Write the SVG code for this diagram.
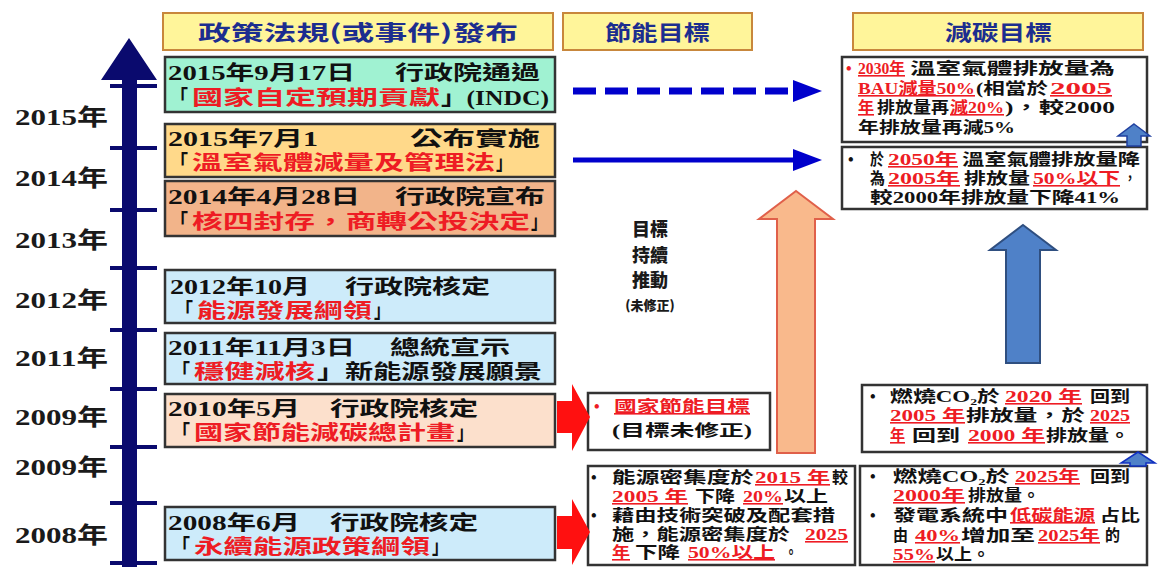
<svg xmlns="http://www.w3.org/2000/svg" width="1160" height="567" viewBox="0 0 1160 567">
<style>
text{font-family:"Liberation Serif","Noto Sans CJK TC",serif;font-weight:bold}
.hd{font-family:"Noto Sans CJK TC",sans-serif;font-size:21px;fill:#1C2D8F}
.yr{font-size:23px;fill:#1a1a1a}
.L{font-size:20px;fill:#111}
.Lr{font-size:20px;fill:#EE1C24}
.s{font-size:16px;fill:#111}
.sr{font-size:16px;fill:#EE1C24}
.u{text-decoration:underline}
.hbox{fill:#FFF59A;stroke:#C8873C;stroke-width:2}
.box{stroke:#333;stroke-width:2.5}
.wbox{fill:#fff;stroke:#333;stroke-width:2.5}
.mid{font-family:"Noto Sans CJK TC",sans-serif;font-size:18px;font-weight:900;fill:#1a1a1a}
</style>
<rect width="1160" height="567" fill="#fff"/>

<g id="headers">
<rect class="hbox" x="163" y="13" width="390" height="37"/>
<text class="hd" x="198" y="40" textLength="320" lengthAdjust="spacingAndGlyphs">政策法規(或事件)發布</text>
<rect class="hbox" x="563" y="13" width="189" height="37"/>
<text class="hd" x="605" y="40" textLength="105" lengthAdjust="spacingAndGlyphs">節能目標</text>
<rect class="hbox" x="853" y="13" width="290" height="37"/>
<text class="hd" x="945" y="40" textLength="107" lengthAdjust="spacingAndGlyphs">減碳目標</text>
</g>

<g id="timeline" fill="#0A0A6E" stroke="none">
<polygon points="129,38 157,80 137,80 137,567 122,567 122,80 101,80"/>
<g stroke="#0A0A6E" stroke-width="4">
<line x1="110" y1="86" x2="157" y2="86"/>
<line x1="110" y1="148" x2="157" y2="148"/>
<line x1="110" y1="210" x2="157" y2="210"/>
<line x1="110" y1="268" x2="157" y2="268"/>
<line x1="110" y1="330" x2="157" y2="330"/>
<line x1="110" y1="389" x2="157" y2="389"/>
<line x1="110" y1="447" x2="157" y2="447"/>
<line x1="110" y1="503" x2="157" y2="503"/>
<line x1="110" y1="563" x2="157" y2="563"/>
</g>
<text class="yr" x="15" y="125" textLength="93" lengthAdjust="spacingAndGlyphs">2015年</text>
<text class="yr" x="15" y="186" textLength="93" lengthAdjust="spacingAndGlyphs">2014年</text>
<text class="yr" x="15" y="248" textLength="93" lengthAdjust="spacingAndGlyphs">2013年</text>
<text class="yr" x="15" y="308" textLength="93" lengthAdjust="spacingAndGlyphs">2012年</text>
<text class="yr" x="15" y="366" textLength="93" lengthAdjust="spacingAndGlyphs">2011年</text>
<text class="yr" x="15" y="425" textLength="93" lengthAdjust="spacingAndGlyphs">2009年</text>
<text class="yr" x="15" y="475" textLength="93" lengthAdjust="spacingAndGlyphs">2009年</text>
<text class="yr" x="15" y="543" textLength="93" lengthAdjust="spacingAndGlyphs">2008年</text>
</g>

<g id="ev2015-09">
<rect class="box" x="165" y="57" width="390" height="55" fill="#A0F2D2"/>
<text class="L" x="168" y="80" textLength="187" lengthAdjust="spacingAndGlyphs">2015年9月17日</text>
<text class="L" x="395" y="80" textLength="145" lengthAdjust="spacingAndGlyphs">行政院通過</text>
<text class="L" x="170" y="105" textLength="18" lengthAdjust="spacingAndGlyphs">「</text>
<text class="Lr" x="192" y="105" textLength="248" lengthAdjust="spacingAndGlyphs">國家自定預期貢獻</text>
<text class="L" x="441" y="105" textLength="108" lengthAdjust="spacingAndGlyphs">」(INDC)</text>
</g>

<g id="ev2015-07">
<rect class="box" x="165" y="124" width="390" height="53" fill="#FFD98A"/>
<text class="L" x="168" y="146" textLength="150" lengthAdjust="spacingAndGlyphs">2015年7月1</text>
<text class="L" x="410" y="146" textLength="130" lengthAdjust="spacingAndGlyphs">公布實施</text>
<text class="L" x="170" y="170" textLength="18" lengthAdjust="spacingAndGlyphs">「</text>
<text class="Lr" x="192" y="170" textLength="303" lengthAdjust="spacingAndGlyphs">溫室氣體減量及管理法</text>
<text class="L" x="496" y="170" textLength="16" lengthAdjust="spacingAndGlyphs">」</text>
</g>

<g id="ev2014-04">
<rect class="box" x="165" y="181" width="390" height="55" fill="#F2B48A"/>
<text class="L" x="168" y="204" textLength="192" lengthAdjust="spacingAndGlyphs">2014年4月28日</text>
<text class="L" x="395" y="204" textLength="150" lengthAdjust="spacingAndGlyphs">行政院宣布</text>
<text class="L" x="170" y="229" textLength="18" lengthAdjust="spacingAndGlyphs">「</text>
<text class="Lr" x="192" y="229" textLength="338" lengthAdjust="spacingAndGlyphs">核四封存，商轉公投決定</text>
<text class="L" x="531" y="229" textLength="16" lengthAdjust="spacingAndGlyphs">」</text>
</g>

<g id="ev2012-10">
<rect class="box" x="165" y="270" width="390" height="53" fill="#CDEBFA"/>
<text class="L" x="170" y="294" textLength="140" lengthAdjust="spacingAndGlyphs">2012年10月</text>
<text class="L" x="345" y="294" textLength="145" lengthAdjust="spacingAndGlyphs">行政院核定</text>
<text class="L" x="175" y="318" textLength="18" lengthAdjust="spacingAndGlyphs">「</text>
<text class="Lr" x="197" y="318" textLength="175" lengthAdjust="spacingAndGlyphs">能源發展綱領</text>
<text class="L" x="374" y="318" textLength="16" lengthAdjust="spacingAndGlyphs">」</text>
</g>

<g id="ev2011-11">
<rect class="box" x="165" y="333" width="390" height="51" fill="#CDEBFA"/>
<text class="L" x="168" y="355" textLength="187" lengthAdjust="spacingAndGlyphs">2011年11月3日</text>
<text class="L" x="390" y="355" textLength="120" lengthAdjust="spacingAndGlyphs">總統宣示</text>
<text class="L" x="172" y="379" textLength="18" lengthAdjust="spacingAndGlyphs">「</text>
<text class="Lr" x="194" y="379" textLength="121" lengthAdjust="spacingAndGlyphs">穩健減核</text>
<text class="L" x="317" y="379" textLength="225" lengthAdjust="spacingAndGlyphs">」新能源發展願景</text>
</g>

<g id="ev2010-05">
<rect class="box" x="165" y="394" width="390" height="53" fill="#FCE0CC"/>
<text class="L" x="168" y="416" textLength="132" lengthAdjust="spacingAndGlyphs">2010年5月</text>
<text class="L" x="330" y="416" textLength="148" lengthAdjust="spacingAndGlyphs">行政院核定</text>
<text class="L" x="172" y="440" textLength="18" lengthAdjust="spacingAndGlyphs">「</text>
<text class="Lr" x="194" y="440" textLength="261" lengthAdjust="spacingAndGlyphs">國家節能減碳總計畫</text>
<text class="L" x="457" y="440" textLength="16" lengthAdjust="spacingAndGlyphs">」</text>
</g>

<g id="ev2008-06">
<rect class="box" x="165" y="507" width="390" height="53" fill="#CDEBFA"/>
<text class="L" x="168" y="530" textLength="132" lengthAdjust="spacingAndGlyphs">2008年6月</text>
<text class="L" x="330" y="530" textLength="148" lengthAdjust="spacingAndGlyphs">行政院核定</text>
<text class="L" x="172" y="554" textLength="18" lengthAdjust="spacingAndGlyphs">「</text>
<text class="Lr" x="194" y="554" textLength="236" lengthAdjust="spacingAndGlyphs">永續能源政策綱領</text>
<text class="L" x="432" y="554" textLength="16" lengthAdjust="spacingAndGlyphs">」</text>
</g>

<g id="mid-note">
<text class="mid" x="650" y="236" text-anchor="middle">目標</text>
<text class="mid" x="650" y="262" text-anchor="middle">持續</text>
<text class="mid" x="650" y="287" text-anchor="middle">推動</text>
<text class="mid" x="650" y="310" text-anchor="middle" style="font-size:13px">(未修正)</text>
</g>

<g id="target-2030">
<rect class="wbox" x="842" y="57" width="305" height="85"/>
<text class="sr" x="846" y="74">•</text>
<text class="sr u" x="858" y="74" textLength="47" lengthAdjust="spacingAndGlyphs">2030年</text>
<text class="s" x="910" y="74" textLength="205" lengthAdjust="spacingAndGlyphs">溫室氣體排放量為</text>
<text class="sr u" x="858" y="94" textLength="117" lengthAdjust="spacingAndGlyphs">BAU減量50%</text>
<text class="s" x="976" y="94" textLength="72" lengthAdjust="spacingAndGlyphs">(相當於</text>
<text class="sr u" x="1050" y="94" textLength="62" lengthAdjust="spacingAndGlyphs">2005</text>
<text class="sr u" x="858" y="113" textLength="16" lengthAdjust="spacingAndGlyphs">年</text>
<text class="s" x="877" y="113" textLength="72" lengthAdjust="spacingAndGlyphs">排放量再</text>
<text class="sr u" x="950" y="113" textLength="54" lengthAdjust="spacingAndGlyphs">減20%</text>
<text class="s" x="1005" y="113" textLength="110" lengthAdjust="spacingAndGlyphs">)，較2000</text>
<text class="s" x="858" y="133" textLength="157" lengthAdjust="spacingAndGlyphs">年排放量再減5%</text>
</g>

<g id="target-2050">
<rect class="wbox" x="842" y="147" width="305" height="62"/>
<text class="s" x="848" y="165">•</text>
<text class="s" x="870" y="165" textLength="14" lengthAdjust="spacingAndGlyphs">於</text>
<text class="sr u" x="888" y="165" textLength="70" lengthAdjust="spacingAndGlyphs">2050年</text>
<text class="s" x="962" y="165" textLength="178" lengthAdjust="spacingAndGlyphs">溫室氣體排放量降</text>
<text class="s" x="870" y="184" textLength="15" lengthAdjust="spacingAndGlyphs">為</text>
<text class="sr u" x="888" y="184" textLength="72" lengthAdjust="spacingAndGlyphs">2005年</text>
<text class="s" x="964" y="184" textLength="66" lengthAdjust="spacingAndGlyphs">排放量</text>
<text class="sr u" x="1033" y="184" textLength="87" lengthAdjust="spacingAndGlyphs">50%以下</text>
<text class="s" x="1124" y="184" textLength="12" lengthAdjust="spacingAndGlyphs">，</text>
<text class="s" x="870" y="203" textLength="250" lengthAdjust="spacingAndGlyphs">較2000年排放量下降41%</text>
</g>

<g id="energy-target">
<rect class="wbox" x="588" y="393" width="182" height="57"/>
<text class="sr" x="594" y="412">•</text>
<text class="sr u" x="614" y="412" textLength="136" lengthAdjust="spacingAndGlyphs">國家節能目標</text>
<text class="s" x="612" y="436" textLength="140" lengthAdjust="spacingAndGlyphs">(目標未修正)</text>
</g>

<g id="energy-intensity">
<rect class="wbox" x="588" y="466" width="267" height="99"/>
<text class="s" x="591" y="483">•</text>
<text class="s" x="612" y="483" textLength="142" lengthAdjust="spacingAndGlyphs">能源密集度於</text>
<text class="sr u" x="755" y="483" textLength="75" lengthAdjust="spacingAndGlyphs">2015 年</text>
<text class="s" x="832" y="483" textLength="16" lengthAdjust="spacingAndGlyphs">較</text>
<text class="sr u" x="612" y="502" textLength="76" lengthAdjust="spacingAndGlyphs">2005 年</text>
<text class="s" x="695" y="502" textLength="40" lengthAdjust="spacingAndGlyphs">下降</text>
<text class="sr u" x="743" y="502" textLength="40" lengthAdjust="spacingAndGlyphs">20%</text>
<text class="s" x="784" y="502" textLength="44" lengthAdjust="spacingAndGlyphs">以上</text>
<text class="s" x="591" y="521">•</text>
<text class="s" x="612" y="521" textLength="223" lengthAdjust="spacingAndGlyphs">藉由技術突破及配套措</text>
<text class="s" x="612" y="540" textLength="178" lengthAdjust="spacingAndGlyphs">施，能源密集度於</text>
<text class="sr u" x="805" y="540" textLength="43" lengthAdjust="spacingAndGlyphs">2025</text>
<text class="sr u" x="612" y="558" textLength="18" lengthAdjust="spacingAndGlyphs">年</text>
<text class="s" x="635" y="558" textLength="45" lengthAdjust="spacingAndGlyphs">下降</text>
<text class="sr u" x="688" y="558" textLength="87" lengthAdjust="spacingAndGlyphs">50%以上</text>
<text class="s" x="785" y="558" textLength="12" lengthAdjust="spacingAndGlyphs">。</text>
</g>

<g id="co2-2020">
<rect class="wbox" x="862" y="385" width="285" height="67"/>
<text class="s" x="870" y="402">•</text>
<text class="s" x="890" y="402" textLength="110" lengthAdjust="spacingAndGlyphs">燃燒CO₂於</text>
<text class="sr u" x="1005" y="402" textLength="77" lengthAdjust="spacingAndGlyphs">2020 年</text>
<text class="s" x="1090" y="402" textLength="40" lengthAdjust="spacingAndGlyphs">回到</text>
<text class="sr u" x="890" y="421" textLength="75" lengthAdjust="spacingAndGlyphs">2005 年</text>
<text class="s" x="966" y="421" textLength="119" lengthAdjust="spacingAndGlyphs">排放量，於</text>
<text class="sr u" x="1090" y="421" textLength="40" lengthAdjust="spacingAndGlyphs">2025</text>
<text class="sr u" x="890" y="441" textLength="15" lengthAdjust="spacingAndGlyphs">年</text>
<text class="s" x="912" y="441" textLength="48" lengthAdjust="spacingAndGlyphs">回到</text>
<text class="sr u" x="968" y="441" textLength="77" lengthAdjust="spacingAndGlyphs">2000 年</text>
<text class="s" x="1046" y="441" textLength="84" lengthAdjust="spacingAndGlyphs">排放量。</text>
</g>

<g id="co2-2025">
<rect class="wbox" x="860" y="466" width="287" height="99"/>
<text class="s" x="870" y="482">•</text>
<text class="s" x="893" y="482" textLength="117" lengthAdjust="spacingAndGlyphs">燃燒CO₂於</text>
<text class="sr u" x="1015" y="482" textLength="65" lengthAdjust="spacingAndGlyphs">2025年</text>
<text class="s" x="1090" y="482" textLength="40" lengthAdjust="spacingAndGlyphs">回到</text>
<text class="sr u" x="893" y="501" textLength="72" lengthAdjust="spacingAndGlyphs">2000年</text>
<text class="s" x="968" y="501" textLength="72" lengthAdjust="spacingAndGlyphs">排放量。</text>
<text class="s" x="870" y="521">•</text>
<text class="s" x="893" y="521" textLength="115" lengthAdjust="spacingAndGlyphs">發電系統中</text>
<text class="sr u" x="1010" y="521" textLength="85" lengthAdjust="spacingAndGlyphs">低碳能源</text>
<text class="s" x="1100" y="521" textLength="40" lengthAdjust="spacingAndGlyphs">占比</text>
<text class="s" x="893" y="541" textLength="15" lengthAdjust="spacingAndGlyphs">由</text>
<text class="sr u" x="915" y="541" textLength="45" lengthAdjust="spacingAndGlyphs">40%</text>
<text class="s" x="961" y="541" textLength="74" lengthAdjust="spacingAndGlyphs">增加至</text>
<text class="sr u" x="1038" y="541" textLength="62" lengthAdjust="spacingAndGlyphs">2025年</text>
<text class="s" x="1105" y="541" textLength="15" lengthAdjust="spacingAndGlyphs">的</text>
<text class="sr u" x="893" y="560" textLength="42" lengthAdjust="spacingAndGlyphs">55%</text>
<text class="s" x="936" y="560" textLength="54" lengthAdjust="spacingAndGlyphs">以上。</text>
</g>

<g id="connectors">
<line x1="573" y1="91" x2="795" y2="91" stroke="#0000CC" stroke-width="7" stroke-dasharray="23,9"/>
<polygon points="793,80 822,91 793,102" fill="#0000CC"/>
<line x1="573" y1="160" x2="796" y2="160" stroke="#0000CC" stroke-width="5"/>
<polygon points="793,149 822,160 793,171" fill="#0000CC"/>
<polygon points="557,401 572,401 572,384 590,417 572,451 572,433 557,433" fill="#FF1010"/>
<polygon points="557,516 572,516 572,499 590,532 572,565 572,549 557,549" fill="#FF1010"/>
<polygon points="796,191 833,219 815,219 815,453 777,453 777,219 759,219" fill="#F9B98C" stroke="#E0604A" stroke-width="2"/>
<polygon points="1023,225 1056,250 1040,250 1040,363 1006,363 1006,250 990,250" fill="#4F81C8" stroke="#2F4F80" stroke-width="2"/>
<polygon points="1134,124 1150,136 1141,136 1141,146 1127,146 1127,136 1118,136" fill="#4F81C8" stroke="#2040A0" stroke-width="1.5"/>
<polygon points="1138,452 1155,463 1146,463 1146,466 1130,466 1130,463 1121,463" fill="#4F81C8" stroke="#1030C0" stroke-width="1.5"/>
</g>
</svg>
